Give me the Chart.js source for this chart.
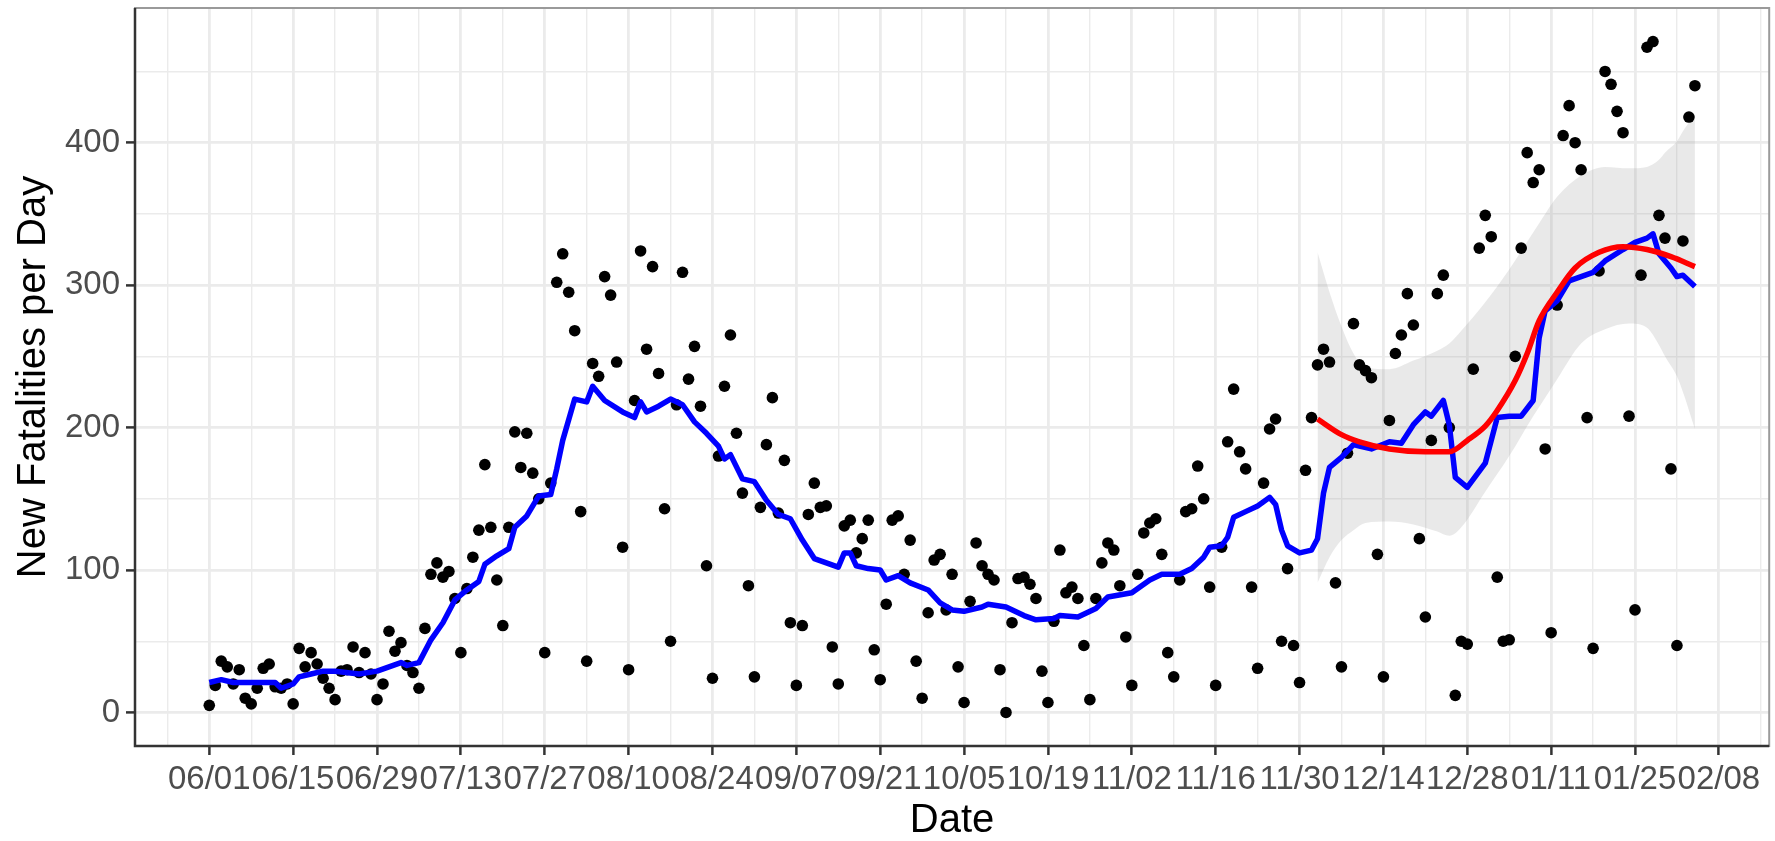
<!DOCTYPE html>
<html>
<head>
<meta charset="utf-8">
<script src="https://cdn.jsdelivr.net/npm/chart.js@4.4.1/dist/chart.umd.min.js"></script>
<style>
  html, body { margin: 0; padding: 0; background: #fff; }
  #wrap { width: 1775px; height: 841px; }
</style>
</head>
<body>
<div id="wrap"><canvas id="chart" width="1775" height="841"></canvas></div>
<script>
// days counted from 06/01 (day 0); one value per day
const fatalities = [
  5, 19, 36, 32, 20, 30, 10, 6, 17, 31, 34, 18, 17, 20, 6, 45, 32, 42, 34, 24,
  17, 9, 29, 30, 46, 28, 42, 27, 9, 20, 57, 43, 49, 33, 28, 17, 59, 97, 105, 95,
  99, 80, 42, 87, 109, 128, 174, 130, 93, 61, 130, 197, 172, 196, 168, 150, 42, 161, 302, 322,
  295, 268, 141, 36, 245, 236, 306, 293, 246, 116, 30, 219, 324, 255, 313, 238, 143, 50, 216, 309,
  234, 257, 215, 103, 24, 180, 229, 265, 196, 154, 89, 25, 144, 188, 221, 140, 177, 63, 19, 61,
  139, 161, 144, 145, 46, 20, 131, 135, 112, 122, 135, 44, 23, 76, 135, 138, 97, 121, 36, 10,
  70, 107, 111, 72, 97, 32, 7, 78, 119, 103, 97, 93, 30, 0, 63, 94, 95, 90, 80, 29,
  7, 64, 114, 84, 88, 80, 47, 9, 80, 105, 119, 114, 89, 53, 19, 97, 126, 133, 136, 111,
  42, 25, 93, 141, 143, 173, 150, 88, 19, 116, 190, 227, 183, 171, 88, 31, 161, 199, 206, 50,
  101, 47, 21, 170, 207, 244, 255, 246, 91, 32, 182, 273, 244, 240, 235, 111, 25, 205, 252, 265,
  294, 272, 122, 67, 191, 294, 307, 200, 12, 50, 48, 241, 326, 349, 334, 95, 50, 51, 250, 326,
  393, 372, 381, 185, 56, 286, 405, 426, 400, 381, 207, 45, 310, 450, 441, 422, 407, 208, 72, 307,
  467, 471, 349, 333, 171, 47, 331, 418, 440
];

// rolling average (blue)
const avgDays = [0, 2, 4, 7, 11, 12, 14, 15, 17, 19, 21, 25, 28, 30, 32, 33, 35, 37, 39, 41,
  43, 45, 46, 48, 50, 51, 53, 55, 57, 58, 59, 61, 63, 64, 66, 69, 71, 72, 73, 75,
  77, 79, 81, 83, 85, 86, 87, 89, 91, 93, 95, 97, 99, 101, 103, 105, 106, 107, 108, 110,
  112, 113, 115, 117, 120, 122, 124, 126, 129, 130, 133, 136, 138, 141, 142, 145, 148, 150, 154, 157,
  159, 162, 164, 166, 167, 169, 170, 171, 173, 175, 177, 178, 179, 180, 182, 184, 185, 186, 187, 189,
  191, 192, 194, 197, 199, 201, 203, 204, 206, 207, 208, 210, 213, 215, 217, 219, 221, 222, 223, 225,
  227, 229, 231, 233, 236, 238, 240, 241, 242, 244, 245, 246, 248];
const avgValues = [21, 23, 21, 21, 21, 17, 20, 25, 27, 29, 29, 27, 29, 32, 35, 33, 35, 51, 63, 79,
  86, 92, 104, 110, 115, 130, 138, 152, 153, 171, 191, 220, 218, 229, 219, 211, 207, 218, 211, 215,
  220, 216, 204, 196, 187, 178, 181, 164, 162, 149, 139, 136, 121, 108, 105, 102, 112, 112, 103, 101,
  100, 93, 96, 91, 86, 77, 72, 71, 74, 76, 74, 68, 65, 66, 68, 67, 73, 81, 84, 93,
  97, 97, 101, 109, 116, 117, 123, 137, 141, 145, 151, 146, 128, 117, 112, 114, 122, 154, 172, 179,
  188, 187, 185, 190, 189, 202, 211, 208, 219, 202, 165, 158, 175, 207, 208, 208, 219, 263, 282, 289,
  303, 306, 309, 317, 325, 330, 333, 336, 322, 312, 306, 307, 299];

// loess fit (red) and its confidence band
const fitDays = [185, 189, 192, 197, 203, 207, 210, 213, 215, 218, 220, 222, 225, 228, 232, 236, 240, 244, 248];
const fitValues = [206, 195, 190, 185, 183, 183, 191, 201, 212, 233, 252, 275, 295, 312, 323, 327, 325, 320, 313];
const bandDays = [185, 187, 189, 191, 193, 197, 201, 205, 207, 209, 213, 217, 221, 223, 225, 229, 233, 237, 240, 242, 243, 245, 246, 248];
const bandUpper = [323, 295, 271, 252, 242, 241, 247, 254, 259, 268, 288, 311, 337, 350, 362, 377, 383, 382, 383, 388, 393, 401, 408, 420];
const bandLower = [91, 109, 121, 128, 133, 134, 132, 127, 124, 130, 155, 180, 208, 221, 234, 259, 269, 273, 270, 258, 250, 236, 225, 199];

const tickDays = [0, 14, 28, 42, 56, 70, 84, 98, 112, 126, 140, 154, 168, 182, 196, 210, 224, 238, 252];
const tickLabels = ['06/01', '06/15', '06/29', '07/13', '07/27', '08/10', '08/24', '09/07', '09/21', '10/05',
  '10/19', '11/02', '11/16', '11/30', '12/14', '12/28', '01/11', '01/25', '02/08'];
const yTicks = [0, 100, 200, 300, 400];

const FONT = '"Liberation Sans", Arial, sans-serif';

// ggplot-like 5% expansion
const lastDay = fatalities.length - 1;
const xPad = lastDay * 0.05;
const yMaxData = Math.max(...fatalities);
const yPad = yMaxData * 0.05;

const xGrid = [];
for (let d = tickDays[0] - 7; d <= lastDay + xPad; d += 7) xGrid.push(d);
const yGrid = [];
for (let v = 50 * Math.ceil(-yPad / 50); v <= yMaxData + yPad; v += 50) yGrid.push(v);

const isXMajor = v => tickDays.includes(v);
const isYMajor = v => yTicks.includes(v);

const toXY = (xs, ys) => xs.map((x, i) => ({ x: x, y: ys[i] }));

const panelBorder = {
  id: 'panelBorder',
  afterDraw(chart) {
    const { ctx, chartArea: a } = chart;
    ctx.save();
    ctx.strokeStyle = '#9a9a9a';
    ctx.lineWidth = 2;
    ctx.strokeRect(a.left, a.top, a.right - a.left, a.bottom - a.top);
    ctx.strokeStyle = '#333333';
    ctx.lineWidth = 2.5;
    ctx.beginPath();
    ctx.moveTo(a.left, a.top);
    ctx.lineTo(a.left, a.bottom);
    ctx.lineTo(a.right, a.bottom);
    ctx.stroke();
    ctx.restore();
  }
};

new Chart(document.getElementById('chart'), {
  type: 'scatter',
  data: {
    datasets: [
      {
        label: 'fit',
        type: 'line',
        data: toXY(fitDays, fitValues),
        borderColor: '#ff0000',
        borderWidth: 5.5,
        pointRadius: 0,
        cubicInterpolationMode: 'monotone',
        fill: false
      },
      {
        label: 'average',
        type: 'line',
        data: toXY(avgDays, avgValues),
        borderColor: '#0000ff',
        borderWidth: 5.5,
        pointRadius: 0,
        tension: 0,
        borderJoinStyle: 'round',
        fill: false
      },
      {
        label: 'daily',
        data: fatalities.map((v, i) => ({ x: i, y: v })),
        backgroundColor: '#000000',
        borderWidth: 0,
        pointRadius: 5.8
      },
      {
        label: 'upper',
        type: 'line',
        data: toXY(bandDays, bandUpper),
        borderWidth: 0,
        borderColor: 'rgba(0,0,0,0)',
        backgroundColor: 'rgba(153,153,153,0.22)',
        pointRadius: 0,
        cubicInterpolationMode: 'monotone',
        fill: '+1'
      },
      {
        label: 'lower',
        type: 'line',
        data: toXY(bandDays, bandLower),
        borderWidth: 0,
        borderColor: 'rgba(0,0,0,0)',
        pointRadius: 0,
        cubicInterpolationMode: 'monotone',
        fill: false
      }
    ]
  },
  plugins: [panelBorder],
  options: {
    responsive: false,
    animation: false,
    devicePixelRatio: 1,
    layout: { padding: { top: 8, right: 3, left: 0, bottom: 0 } },
    plugins: {
      legend: { display: false },
      tooltip: { enabled: false }
    },
    scales: {
      x: {
        type: 'linear',
        min: -xPad,
        max: lastDay + xPad,
        afterBuildTicks: scale => { scale.ticks = xGrid.map(v => ({ value: v })); },
        afterFit: scale => {
          scale.height = 95;
          scale.paddingLeft = 0;
          scale.paddingRight = 0;
        },
        border: { display: false },
        grid: {
          color: '#ebebeb',
          lineWidth: ctx => isXMajor(ctx.tick.value) ? 2.8 : 1.4,
          tickColor: ctx => isXMajor(ctx.tick.value) ? '#333333' : 'rgba(0,0,0,0)',
          tickWidth: 2.5,
          tickLength: 9
        },
        ticks: {
          autoSkip: false,
          maxRotation: 0,
          minRotation: 0,
          padding: 5,
          color: '#4d4d4d',
          font: { family: FONT, size: 33 },
          callback: v => isXMajor(v) ? tickLabels[tickDays.indexOf(v)] : ''
        },
        title: {
          display: true,
          text: 'Date',
          color: '#000000',
          font: { family: FONT, size: 40, lineHeight: 1 },
          padding: { top: 0, bottom: 0 }
        }
      },
      y: {
        type: 'linear',
        min: -yPad,
        max: yMaxData + yPad,
        afterBuildTicks: scale => { scale.ticks = yGrid.map(v => ({ value: v })); },
        afterFit: scale => {
          scale.width = 135;
          scale.paddingTop = 0;
          scale.paddingBottom = 0;
        },
        border: { display: false },
        grid: {
          color: '#ebebeb',
          lineWidth: ctx => isYMajor(ctx.tick.value) ? 2.8 : 1.4,
          tickColor: ctx => isYMajor(ctx.tick.value) ? '#333333' : 'rgba(0,0,0,0)',
          tickWidth: 2.5,
          tickLength: 9
        },
        ticks: {
          padding: 6,
          color: '#4d4d4d',
          font: { family: FONT, size: 33 },
          callback: v => isYMajor(v) ? String(v) : ''
        },
        title: {
          display: true,
          text: 'New Fatalities per Day',
          color: '#000000',
          font: { family: FONT, size: 40, lineHeight: 1 },
          padding: { top: 14, bottom: 0 }
        }
      }
    }
  }
});
</script>
</body>
</html>
